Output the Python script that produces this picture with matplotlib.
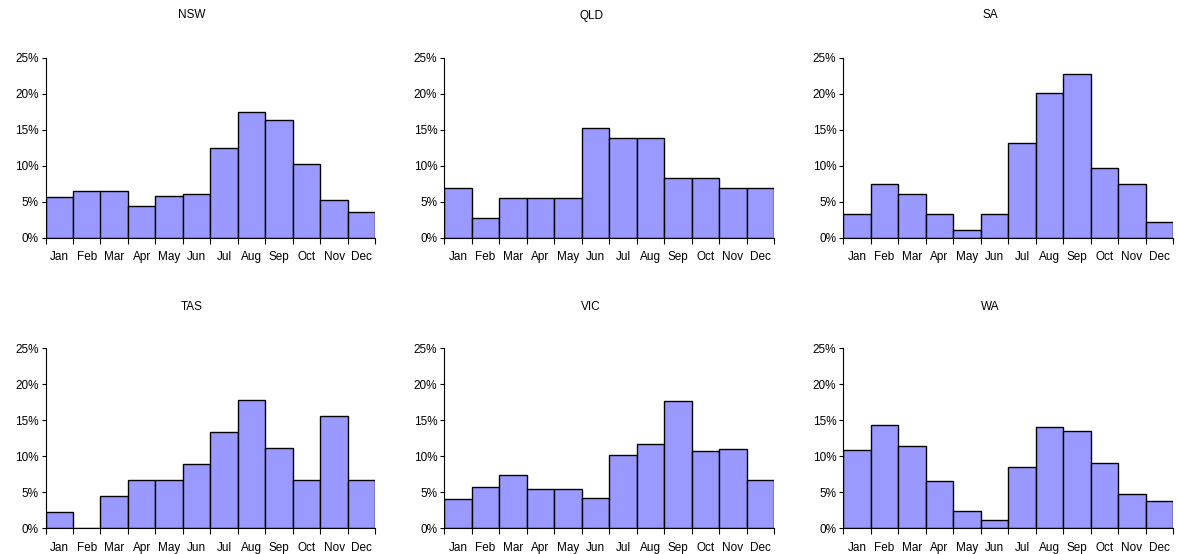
import numpy as np
import matplotlib
matplotlib.use("Agg")
import matplotlib.pyplot as plt
from matplotlib.ticker import PercentFormatter

plt.rcParams["font.family"] = ["Liberation Sans", "DejaVu Sans"]

months = ["Jan", "Feb", "Mar", "Apr", "May", "Jun",
          "Jul", "Aug", "Sep", "Oct", "Nov", "Dec"]

# monthly share of events per state (%)
nsw = [5.7, 6.45, 6.45, 4.45, 5.85, 6.0, 12.5, 17.45, 16.3, 10.3, 5.2, 3.6]
qld = [6.94, 2.78, 5.56, 5.56, 5.56, 15.28, 13.89, 13.89, 8.33, 8.33, 6.94, 6.94]
sa = [3.3, 7.42, 6.0, 3.3, 1.07, 3.3, 13.1, 20.1, 22.8, 9.65, 7.42, 2.18]
tas = [2.22, 0.0, 4.44, 6.67, 6.67, 8.89, 13.33, 17.78, 11.11, 6.67, 15.56, 6.67]
vic = [3.98, 5.69, 7.45, 5.37, 5.37, 4.12, 10.14, 11.7, 17.7, 10.74, 11.06, 6.62]
wa = [10.8, 14.4, 11.4, 6.48, 2.36, 1.11, 8.56, 14.1, 13.5, 9.03, 4.72, 3.8]

states = ["NSW", "QLD", "SA", "TAS", "VIC", "WA"]
values = [nsw, qld, sa, tas, vic, wa]

fig = plt.figure(figsize=(11.77, 5.54), dpi=100)

W, H = 1177, 554
lefts = [45.5, 444.3, 843.3]
tops = [57.8, 348.3]
ax_w, ax_h = 330, 179.8
title_x = [192, 591, 990]
title_y = [15.5, 306.5]

x = np.arange(len(months))
for i, (name, vals) in enumerate(zip(states, values)):
    row, col = divmod(i, 3)
    ax = fig.add_axes([lefts[col] / W, 1 - (tops[row] + ax_h) / H, ax_w / W, ax_h / H])
    ax.bar(x, vals, width=1.0, color="#9999FF", edgecolor="black", linewidth=1.0)
    ax.set_xlim(-0.5, 11.5)
    ax.set_ylim(0, 25)
    ax.set_yticks([0, 5, 10, 15, 20, 25])
    ax.yaxis.set_major_formatter(PercentFormatter(decimals=0))
    ax.set_xticks(x)
    ax.set_xticklabels(months)
    ax.set_xticks(np.arange(-0.5, 12, 1), minor=True)
    ax.tick_params(axis="x", which="major", length=0, pad=10, labelsize=8.5)
    ax.tick_params(axis="x", which="minor", length=4, width=0.8, direction="out")
    ax.tick_params(axis="y", length=3, width=0.8, direction="out", pad=2, labelsize=8.5)
    for side in ("top", "right"):
        ax.spines[side].set_visible(False)
    for side in ("left", "bottom"):
        ax.spines[side].set_linewidth(0.8)
    fig.text(title_x[col] / W, 1 - title_y[row] / H, name,
             ha="center", va="center", fontsize=8.5)

fig.savefig("out.png", dpi=100)
